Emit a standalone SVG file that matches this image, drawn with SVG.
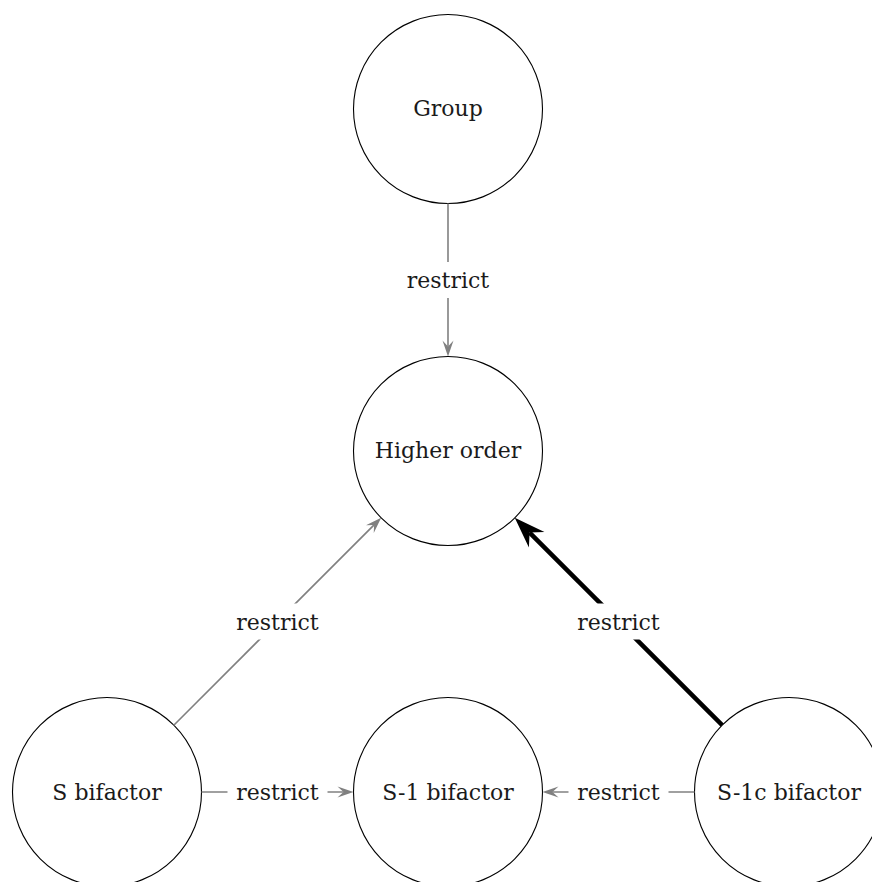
<svg xmlns="http://www.w3.org/2000/svg" width="872" height="882" viewBox="0 0 872 882">
<style>
.node{fill:#fff;stroke:#000;stroke-width:1.1}
.t{font-family:"DejaVu Serif",serif;font-size:22px;fill:#1a1a1a;text-anchor:middle}
.e{stroke:#808080;stroke-width:1.6;fill:none}
.ek{stroke:#000;stroke-width:4.5;fill:none}
.lb{fill:#fff;stroke:none}
</style>
<defs>
<marker id="ag" markerUnits="userSpaceOnUse" viewBox="-7 -6 18 12" refX="0" refY="0" markerWidth="18" markerHeight="12" orient="auto">
<path d="M10,0 L-6,-5.5 L0,0 L-6,5.5 Z" fill="#808080"/>
</marker>
<marker id="ak" markerUnits="userSpaceOnUse" viewBox="-11 -12 33 24" refX="0" refY="0" markerWidth="33" markerHeight="24" orient="auto">
<path d="M21,0 L-10,-11 L0,0 L-10,11 Z" fill="#000"/>
</marker>
</defs>
<rect width="872" height="882" fill="#fff"/>
<g id="group"><circle class="node" cx="448" cy="109" r="94.5"/><text class="t" x="448" y="116">Group</text></g>
<g id="higher"><circle class="node" cx="448" cy="451" r="94.5"/><text class="t" x="448" y="458">Higher order</text></g>
<g id="sbif"><circle class="node" cx="107" cy="792" r="94.5"/><text class="t" x="107" y="800">S bifactor</text></g>
<g id="s1bif"><circle class="node" cx="448" cy="792" r="94.5"/><text class="t" x="448" y="800">S-1 bifactor</text></g>
<g id="s1cbif"><circle class="node" cx="789" cy="792" r="94.5"/><text class="t" x="789" y="800">S-1c bifactor</text></g>
<g id="connectors">
<line class="e" x1="448" y1="203.5" x2="448" y2="346.5" marker-end="url(#ag)"/>
<line class="e" x1="173.8" y1="725.2" x2="374.1" y2="524.9" marker-end="url(#ag)"/>
<line class="ek" x1="722.2" y1="725.2" x2="529.6" y2="532.6" marker-end="url(#ak)"/>
<line class="e" x1="201.5" y1="792" x2="343.5" y2="792" marker-end="url(#ag)"/>
<line class="e" x1="694.5" y1="792" x2="552.5" y2="792" marker-end="url(#ag)"/>
<rect class="lb" x="398" y="262" width="100" height="36"/>
<text class="t" x="448" y="288">restrict</text>
<rect class="lb" x="227.5" y="603.5" width="100" height="36"/>
<text class="t" x="277.5" y="629.5">restrict</text>
<rect class="lb" x="568.5" y="603.5" width="100" height="36"/>
<text class="t" x="618.5" y="629.5">restrict</text>
<rect class="lb" x="227.5" y="774" width="100" height="36"/>
<text class="t" x="277.5" y="800">restrict</text>
<rect class="lb" x="568.5" y="774" width="100" height="36"/>
<text class="t" x="618.5" y="800">restrict</text>
</g>
</svg>
